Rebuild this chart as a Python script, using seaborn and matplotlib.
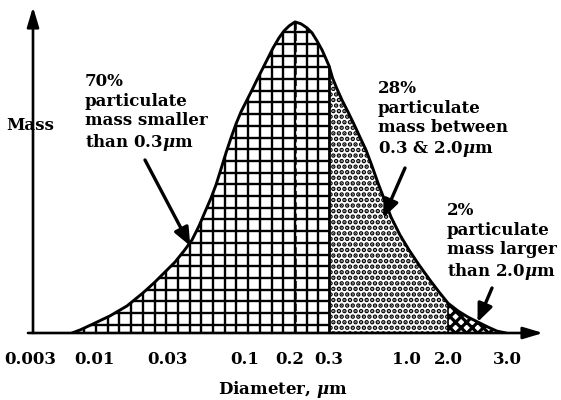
import numpy as np
import matplotlib
matplotlib.use('Agg')
import matplotlib.pyplot as plt
from matplotlib.collections import LineCollection
from matplotlib.ticker import NullLocator
import seaborn as sns

# particle diameter (um) and relative mass
diameter = np.array([0.00661, 0.00768, 0.00981, 0.01272, 0.01643, 0.02091, 0.02505, 0.02911,
                     0.03393, 0.03901, 0.04413, 0.04915, 0.05391, 0.05918, 0.06391, 0.06903,
                     0.07456, 0.08055, 0.08703, 0.09401, 0.1031, 0.1114, 0.1203, 0.1319,
                     0.1425, 0.1539, 0.1689, 0.1823, 0.1970, 0.2107,
                     0.2242, 0.2386, 0.2514, 0.2648, 0.2790, 0.2908, 0.30, 0.3169,
                     0.3398, 0.3676, 0.4006, 0.4366, 0.4832, 0.5352, 0.5875, 0.6454,
                     0.7145, 0.7909, 0.9106, 1.051, 1.239, 1.486, 1.724, 2.0,
                     2.142, 2.295, 2.458, 2.633, 2.802, 2.979])
mass = np.array([0, 0.96, 2.9, 5.5, 8.7, 12.9, 16.4, 19.6,
                 22.8, 26.4, 29.9, 34.4, 38.9, 43.4, 47.6, 52.7,
                 57.9, 62.7, 67.2, 71.1, 74.9, 78.1, 81.4, 85.2,
                 88.4, 91.6, 94.9, 97.1, 98.7, 100,
                 99.4, 98.1, 96.5, 93.9, 91.0, 88.1, 85.9, 82.0,
                 78.5, 74.9, 71.4, 67.8, 63.3, 58.8, 53.7, 48.2,
                 42.8, 37.3, 31.5, 26.7, 21.9, 17.0, 13.2, 9.6,
                 7.1, 5.1, 3.5, 1.9, 0.6, 0])

tick_values = [0.003, 0.01, 0.03, 0.1, 0.2, 0.3, 1.0, 2.0, 3.0]
tick_labels = ['0.003', '0.01', '0.03', '0.1', '0.2', '0.3', '1.0', '2.0', '3.0']

split_small = 0.3
split_large = 2.0
mode_diameter = 0.21

label_small = '70%\nparticulate\nmass smaller\nthan 0.3$\\mu$m'
label_mid = '28%\nparticulate\nmass between\n0.3 & 2.0$\\mu$m'
label_large = '2%\nparticulate\nmass larger\nthan 2.0$\\mu$m'

# the printed axis is not a true log scale, so map each tick to where it sits
tick_px = np.array([30, 94, 167, 245, 290, 329, 406, 448, 507])
log_ticks = np.log10(tick_values)


def piecewise(x, xp, fp):
    x = np.asarray(x, dtype=float)
    y = np.interp(x, xp, fp)
    lo = fp[0] + (x - xp[0]) * (fp[1] - fp[0]) / (xp[1] - xp[0])
    hi = fp[-1] + (x - xp[-1]) * (fp[-1] - fp[-2]) / (xp[-1] - xp[-2])
    return np.where(x < xp[0], lo, np.where(x > xp[-1], hi, y))


def forward(d):
    return piecewise(np.log10(np.clip(d, 1e-9, None)), log_ticks, tick_px)


def inverse(p):
    return 10 ** piecewise(p, tick_px, log_ticks)


sns.set_style('white')
plt.rcParams['font.family'] = ['DejaVu Serif']
plt.rcParams['font.weight'] = 'bold'
plt.rcParams['mathtext.fontset'] = 'dejavuserif'
plt.rcParams['hatch.linewidth'] = 2.3
for key in ['text.color', 'axes.labelcolor', 'xtick.color', 'ytick.color']:
    plt.rcParams[key] = 'black'

W, H = 561, 400
fig = plt.figure(figsize=(W / 100, H / 100), dpi=100)
ax = fig.add_axes([28 / W, 67 / H, 515 / W, 326 / H])
ax.set_xscale('function', functions=(forward, inverse))
ax.set_xlim(float(inverse(28)), float(inverse(543)))
ax.set_ylim(0, 104.8)

small = diameter <= split_small
mid = (diameter >= split_small) & (diameter <= split_large)
large = diameter >= split_large

# crosshatched part: white fill with a square grid clipped to it
fill_small = ax.fill_between(diameter[small], mass[small], color='white', lw=0, zorder=1)
gx = 0.5184 + 0.02272 * np.arange(-24, 22)
gy = 0.779 + 0.0359 * np.arange(-23, 7)
segs = [[(x, 0), (x, 1)] for x in gx] + [[(0, y), (1, y)] for y in gy]
grid = LineCollection(segs, colors='black', linewidths=1.7, transform=ax.transAxes, zorder=1.5)
grid.set_clip_path(fill_small.get_paths()[0], ax.transData)
ax.add_collection(grid)

ax.fill_between(diameter[mid], mass[mid], facecolor='white', edgecolor='black',
                hatch='...', lw=0, zorder=1)
ax.fill_between(diameter[large], mass[large], facecolor='white', edgecolor='black',
                hatch='xxx', lw=0, zorder=1)

ax.vlines(split_small, 0, mass[diameter == split_small][0], colors='black', lw=2, zorder=3)
ax.vlines(split_large, 0, mass[diameter == split_large][0], colors='black', lw=1.2, zorder=3)
ax.vlines(mode_diameter, 0, mass.max(), colors='black', lw=1.8,
          linestyles=(0, (3, 1.5)), zorder=2)

sns.lineplot(x=diameter, y=mass, color='black', lw=2.1, sort=False, errorbar=None, ax=ax, zorder=4)

# axes drawn as arrows
for spine in ax.spines.values():
    spine.set_visible(False)
head = dict(arrowstyle='-|>,head_length=1.0,head_width=0.3', lw=1.9, color='black',
            shrinkA=0, shrinkB=0, mutation_scale=12)
ax.annotate('', xy=(1, 0), xytext=(0, 0), xycoords='axes fraction', arrowprops=head,
            annotation_clip=False)
ax.annotate('', xy=(0.0097, 1), xytext=(0.0097, 0), xycoords='axes fraction', arrowprops=head,
            annotation_clip=False)

ax.set_yticks([])
ax.set_xticks(tick_values, tick_labels)
ax.xaxis.set_minor_locator(NullLocator())
ax.tick_params(axis='x', direction='in', length=4, width=1.2, pad=13, labelsize=12)
ax.set_xlabel('Diameter, $\\mu$m', fontsize=12, fontweight='bold')
ax.xaxis.set_label_coords(0.495, -0.14)
ax.set_ylabel('Mass', rotation=0, fontsize=12, fontweight='bold', ha='center', va='center')
ax.yaxis.set_label_coords(0.004, 0.635)

# callouts
fig.text(85 / W, 1 - 73 / H, label_small, ha='left', va='top', fontsize=12, linespacing=1.2)
fig.text(378 / W, 1 - 80 / H, label_mid, ha='left', va='top', fontsize=12, linespacing=1.2)
fig.text(447 / W, 1 - 202 / H, label_large, ha='left', va='top', fontsize=12, linespacing=1.2)

pointer = dict(arrowstyle='-|>,head_length=0.9,head_width=0.38', lw=2.4, color='black',
               shrinkA=0, shrinkB=0, mutation_scale=12)
ax.annotate('', xy=(0.043, 28), xytext=(145, H - 160), textcoords='figure pixels',
            arrowprops=pointer, zorder=6)
ax.annotate('', xy=(0.70, 37), xytext=(405, H - 168), textcoords='figure pixels',
            arrowprops=pointer, zorder=6)
ax.annotate('', xy=(2.45, 3.5), xytext=(492, H - 288), textcoords='figure pixels',
            arrowprops=pointer, zorder=6)

fig.savefig('out.png', dpi=100)
